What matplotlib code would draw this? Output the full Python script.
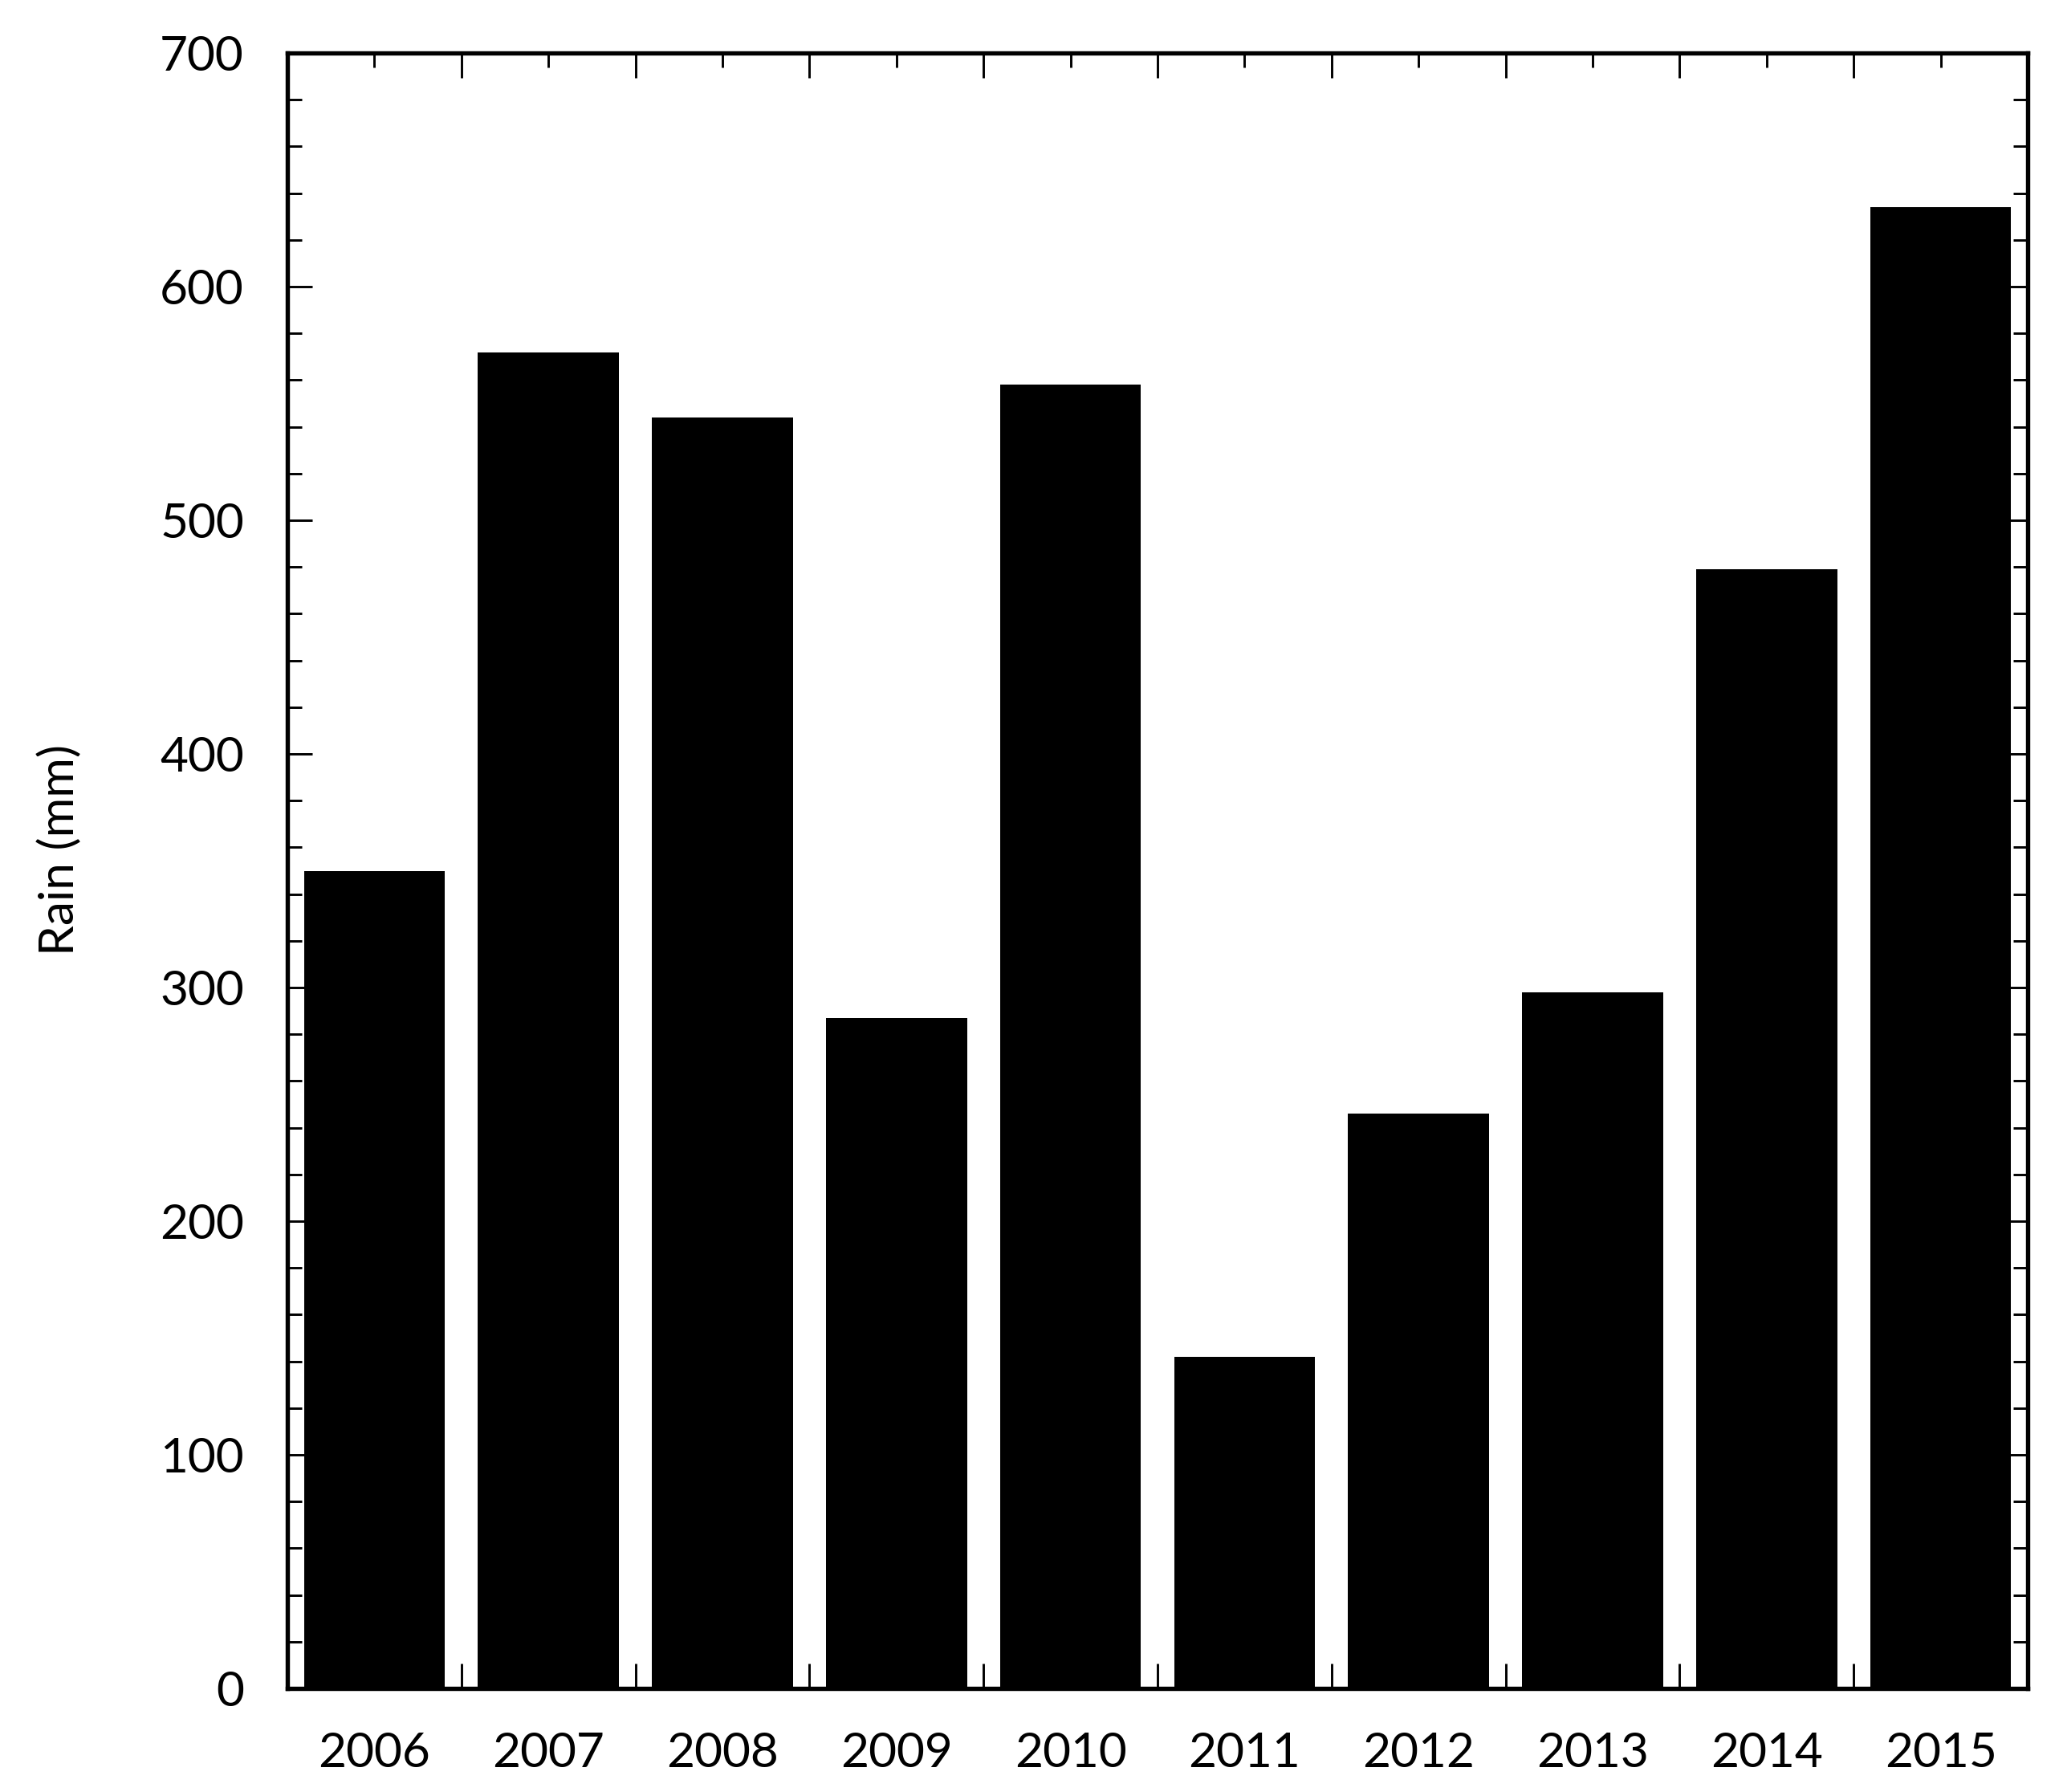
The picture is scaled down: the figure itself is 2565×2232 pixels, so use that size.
import numpy as np
import matplotlib.pyplot as plt
from matplotlib.ticker import MultipleLocator, FixedLocator

years = ["2006", "2007", "2008", "2009", "2010", "2011", "2012", "2013", "2014", "2015"]
rain = [350, 572, 544, 287, 558, 142, 246, 298, 479, 634]

plt.rcParams['font.family'] = ['Lato', 'DejaVu Sans']

fig = plt.figure(figsize=(8.55, 7.44), dpi=300)
ax = fig.add_axes([0.1396, 0.0578, 0.9848 - 0.1396, 0.9704 - 0.0578])

x = np.arange(len(years))
ax.bar(x, rain, width=0.81, color='black', edgecolor='none', zorder=3)

ax.set_xlim(-0.5, len(years) - 0.5)
ax.set_ylim(0, 700)

# major ticks between bars, labels at bar centres (minor)
ax.xaxis.set_major_locator(FixedLocator(x + 0.5))
ax.set_xticklabels([])
ax.set_xticks(x, minor=True)
ax.set_xticklabels(years, minor=True)

ax.yaxis.set_major_locator(MultipleLocator(100))
ax.yaxis.set_minor_locator(MultipleLocator(20))

ax.tick_params(which='both', direction='in', top=True, right=True, width=0.7, colors='black')
ax.tick_params(which='major', length=7.5, labelsize=14.5, pad=13)
ax.tick_params(which='minor', length=4.3, labelsize=14.5, pad=13)

for s in ax.spines.values():
    s.set_linewidth(1.3)
    s.set_zorder(4)

ax.set_ylabel("Rain (mm)", fontsize=14.5)
ax.yaxis.set_label_coords(-0.118, 0.513)

fig.savefig("out.png", dpi=300)
